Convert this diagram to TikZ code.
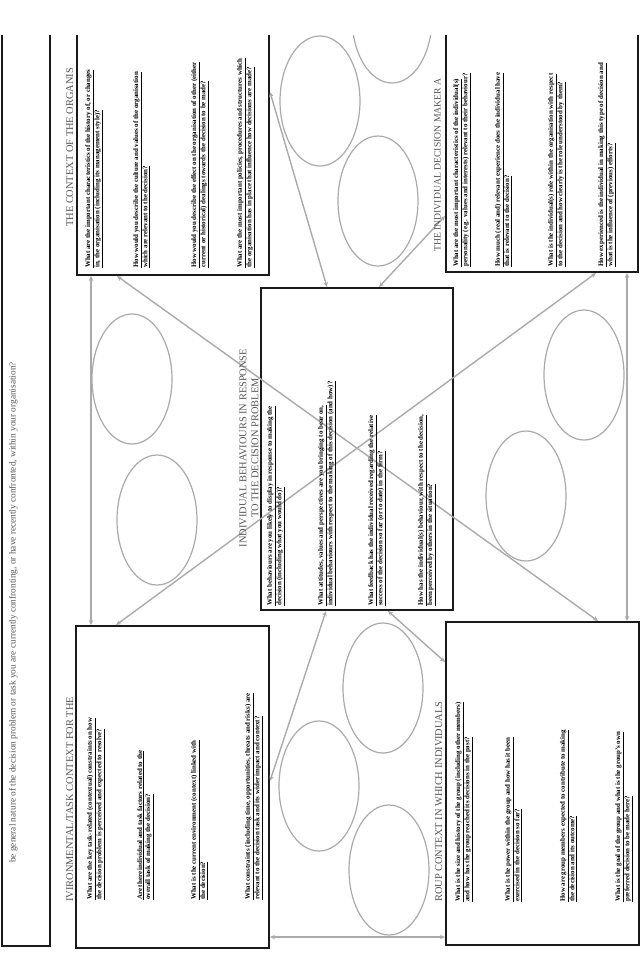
\documentclass[tikz,border=0pt]{standalone}
\usepackage{fontspec}
\setmainfont{Liberation Serif}
\usetikzlibrary{arrows.meta,shapes.geometric}
\definecolor{conncol}{HTML}{AAAAAA}
\definecolor{hdrcol}{HTML}{555555}
\definecolor{boxcol}{HTML}{1A1A1A}
\begin{document}
\begin{tikzpicture}[x=1pt,y=-1pt,
  box/.style={draw=boxcol, line width=2pt, rectangle, inner sep=0pt},
  link/.style={draw=conncol, line width=1.4pt, {Stealth[length=5pt,width=4.5pt]}-{Stealth[length=5pt,width=4.5pt]}},
  oval/.style={draw=conncol, line width=1.2pt, ellipse, minimum width=80pt, minimum height=130pt, inner sep=0pt},
  qtext/.style={rotate=90, anchor=north west, inner sep=0pt, align=left, font=\fontsize{6.9}{8}\selectfont\bfseries},
  htext/.style={rotate=90, anchor=north west, inner sep=0pt, text=hdrcol, font=\fontsize{10.4}{12}\selectfont},
]
\useasboundingbox (0,0) rectangle (644,970);
\begin{scope}
\clip (0,35) rectangle (644,970);

% boxes
\node[box, minimum width=48pt, minimum height=926pt] (bar) at (26,483) {};
\node[box, minimum width=192pt, minimum height=255pt] (tl) at (173,147.5) {};
\node[box, minimum width=192pt, minimum height=252pt] (tr) at (542,146) {};
\node[box, minimum width=192pt, minimum height=322pt] (c) at (357,449) {};
\node[box, minimum width=193pt, minimum height=322pt] (bl) at (172.5,787) {};
\node[box, minimum width=193pt, minimum height=323pt] (br) at (542.5,783.5) {};

% ellipses
\node[oval] (e1) at (320,101) {};
\node[oval] (e2) at (378,201) {};
\node[oval] (e3) at (392,18) {};
\node[oval] (e4) at (132,379) {};
\node[oval] (e5) at (157,520) {};
\node[oval] (e6) at (584,375) {};
\node[oval] (e7) at (526,496) {};
\node[oval] (e8) at (383,688) {};
\node[oval] (e9) at (319,786) {};
\node[oval] (e10) at (389,870) {};

% connectors
\draw[link] ([xshift=15pt]tl.south west) -- ([xshift=16pt]bl.north west);
\draw[link] ([xshift=-12pt]tr.south east) -- ([xshift=-13pt]br.north east);
\draw[link] ([yshift=12pt]bl.south east) -- ([yshift=9pt]br.south west);
\draw[link] ([xshift=41pt]tl.south west) -- ([xshift=-42pt]br.north east);
\draw[link] ([xshift=41pt]bl.north west) -- ([xshift=-43pt]tr.south east);
\draw[link] ([yshift=-73pt]tl.north east) -- ([xshift=67pt]c.north west);
\draw[link] ([yshift=-197pt]tr.north west) -- ([xshift=119pt]c.north west);
\draw[link] ([xshift=66pt]c.south west) -- ([yshift=-156pt]bl.north east);
\draw[link] ([xshift=128pt]c.south west) -- ([yshift=-41pt]br.north west);

% left bar text
\node[rotate=90, anchor=north west, inner sep=0pt, text=hdrcol, font=\fontsize{9.3}{11}\selectfont] (bartext) at (9,863)
 {be general nature of the decision problem or task you are currently confronting, or have recently confronted, within your organisation?};

% headers
\node[htext] (h1) at (66,227) {THE CONTEXT OF THE ORGANIS};
\node[htext, font=\fontsize{9.7}{12}\selectfont] (h2) at (434,252) {THE INDIVIDUAL DECISION MAKER A};
\node[htext] (h3) at (66,902) {IVIRONMENTAL/TASK CONTEXT FOR THE};
\node[htext] (h4) at (435,902) {ROUP CONTEXT IN WHICH INDIVIDUALS};
\node[rotate=90, inner sep=0pt, align=center, text=hdrcol, font=\fontsize{10.4}{12}\selectfont] (h5) at (249,448)
 {INDIVIDUAL BEHAVIOURS IN RESPONSE\\TO THE DECISION PROBLEM};

% top-left questions
\node[qtext] (tl1) at (85,268) {\underline{What are the important characteristics of the history of, or changes}\\\underline{in, the organisation (including its management style)?}};
\node[qtext] (tl2) at (133,268) {\underline{How would you describe the culture and values of the organisation}\\\underline{which are relevant to the decision?}};
\node[qtext] (tl3) at (191,268) {\underline{How would you describe the effect on the organisation of other (either}\\\underline{current or historical) dealings towards the decision to be made?}};
\node[qtext] (tl4) at (237,268) {\underline{What are the most important policies, procedures and structures which}\\\underline{the organisation has in place that influence how decisions are made?}};

% top-right questions
\node[qtext] (tr1) at (453,267) {\underline{What are the most important characteristics of the individual(s)}\\\underline{personality (e.g. values and interests) relevant to their behaviour?}};
\node[qtext] (tr2) at (495,267) {\underline{How much (real and) relevant experience does the individual have}\\\underline{that is relevant to the decision?}};
\node[qtext] (tr3) at (548,267) {\underline{What is the individual(s) role within the organisation with respect}\\\underline{to the decision and how clearly is the role understood by them?}};
\node[qtext] (tr4) at (598,267) {\underline{How experienced is the individual in making this type of decision and}\\\underline{what is the influence of (previous) efforts?}};

% centre questions
\node[qtext] (c1) at (267,606) {\underline{What behaviours are you likely to display in response to making the}\\\underline{decision (including what you would do)?}};
\node[qtext] (c2) at (318,606) {\underline{What attitudes, values and perspectives are you bringing to bear on,}\\\underline{individual behaviours with respect to the making of this decision (and how)?}};
\node[qtext] (c3) at (368,606) {\underline{What feedback has the individual received regarding the relative}\\\underline{success of the decision so far (or to date) in the firm?}};
\node[qtext] (c4) at (418,606) {\underline{How has the individual(s) behaviour, with respect to the decision,}\\\underline{been perceived by others in the situation?}};

% bottom-left questions
\node[qtext] (bl1) at (87,900) {\underline{What are the key task-related (contextual) constraints on how}\\\underline{the decision problem is perceived and expected to resolve?}};
\node[qtext] (bl2) at (137,900) {\underline{Are there individual and task factors related to the}\\\underline{overall task of making the decision?}};
\node[qtext] (bl3) at (191,900) {\underline{What is the current environment (context) linked with}\\\underline{the decision?}};
\node[qtext] (bl4) at (245,900) {\underline{What constraints (including time, opportunities, threats and risks) are}\\\underline{relevant to the decision task and its wider impact and context?}};

% bottom-right questions
\node[qtext] (br1) at (455,902) {\underline{What is the size and history of the group (including other members)}\\\underline{and how has the group reached its decisions in the past?}};
\node[qtext] (br2) at (505,902) {\underline{What is the power within the group and how has it been}\\\underline{exercised in the decision so far?}};
\node[qtext] (br3) at (560,902) {\underline{How are group members expected to contribute to making}\\\underline{the decision and its outcome?}};
\node[qtext] (br4) at (615,902) {\underline{What is the goal of the group and what is the group's own}\\\underline{preferred decision to be made here?}};
\end{scope}
\end{tikzpicture}
\end{document}
